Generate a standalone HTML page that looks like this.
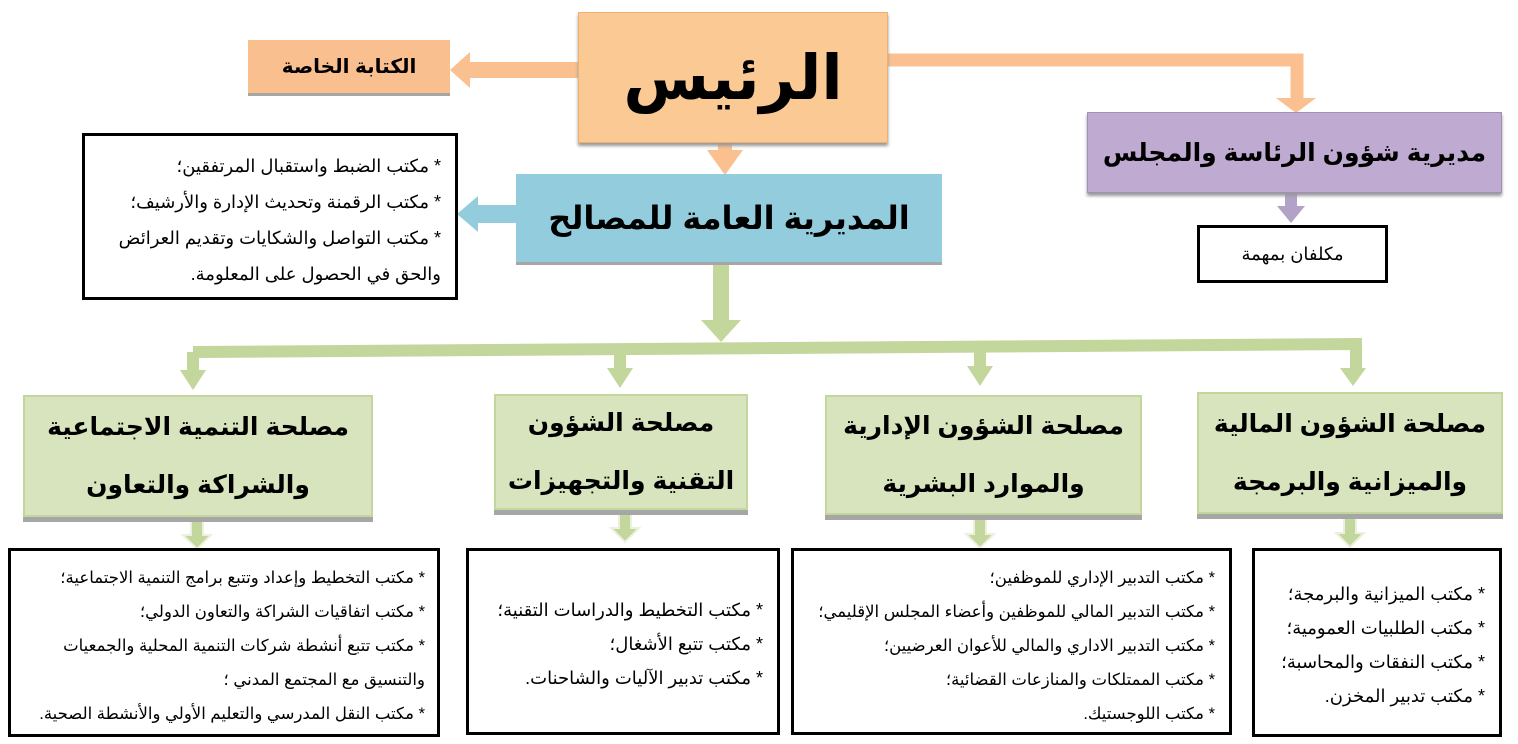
<!DOCTYPE html>
<html><head><meta charset="utf-8"><style>
body{margin:0;width:1518px;height:744px;background:#fff;position:relative;overflow:hidden;font-family:"Liberation Sans","Noto Sans CJK SC","DejaVu Sans",sans-serif;}
.b{position:absolute;box-sizing:border-box;direction:rtl;display:flex;align-items:center;justify-content:center;text-align:center;font-weight:bold;color:#000;}
.l{position:absolute;box-sizing:border-box;border:3px solid #000;background:#fff;direction:rtl;text-align:right;font-size:18px;line-height:34px;padding:0 14px;white-space:nowrap;overflow:hidden;}
.g{background:#d7e4bd;border:2px solid #c3d69b;box-shadow:0 5px 0 #a6a6a6;font-size:25px;line-height:58px;}
svg{position:absolute;left:0;top:0}
</style></head><body>
<svg width="1518" height="744">
<rect x="470" y="62" width="110" height="16" fill="#fac090"/>
<polygon points="450,70 470,52 470,88" fill="#fac090"/>
<path d="M888 60 H1297 V100" fill="none" stroke="#fac090" stroke-width="13"/>
<polygon points="1276,98 1316,98 1296,113" fill="#fac090"/>
<rect x="718" y="143" width="14" height="20" fill="#fac090"/>
<polygon points="707,150 743,150 725,175" fill="#fac090"/>
<rect x="1285" y="193" width="12" height="15" fill="#b3a2c7"/>
<polygon points="1277,206 1305,206 1291,223" fill="#b3a2c7"/>
<rect x="478" y="205" width="40" height="18" fill="#93cddd"/>
<polygon points="457,214 478,196 478,232" fill="#93cddd"/>
<rect x="713" y="263" width="16" height="60" fill="#c3d69b"/>
<polygon points="701,320 741,320 721,342" fill="#c3d69b"/>
<path d="M193 352 L1356 344 V370" fill="none" stroke="#c3d69b" stroke-width="12"/>
<rect x="187" y="352" width="12" height="20" fill="#c3d69b"/><polygon points="180,370 206,370 193,390" fill="#c3d69b"/>
<rect x="614" y="350" width="12" height="20" fill="#c3d69b"/><polygon points="607,368 633,368 620,388" fill="#c3d69b"/>
<rect x="974" y="348" width="12" height="20" fill="#c3d69b"/><polygon points="967,366 993,366 980,386" fill="#c3d69b"/>
<polygon points="1340,368 1366,368 1353,386" fill="#c3d69b"/>
<g fill="#c3d69b" stroke="#ebf1de" stroke-width="2">
<path d="M191 517 h12 v18 h8 l-14 14 l-14 -14 h8z"/>
<path d="M619 510 h12 v18 h8 l-14 14 l-14 -14 h8z"/>
<path d="M974 516 h12 v18 h8 l-14 14 l-14 -14 h8z"/>
<path d="M1344 515 h12 v18 h8 l-14 14 l-14 -14 h8z"/>
</g>
</svg>
<div class="b" style="left:578px;top:12px;width:310px;height:131px;background:#fbc994;border:1px solid #f0b070;box-shadow:0 3px 3px #999;font-size:62px;font-family:'DejaVu Sans',sans-serif">الرئيس</div>
<div class="b" style="left:248px;top:40px;width:202px;height:53px;background:#f9bf8f;box-shadow:0 3px 0 #a6a6a6;font-size:20px">الكتابة الخاصة</div>
<div class="b" style="left:1087px;top:112px;width:415px;height:81px;background:#bfaad2;border:1px solid #a090b8;box-shadow:0 3px 3px #999;font-size:25px">مديرية شؤون الرئاسة والمجلس</div>
<div class="l" style="left:1197px;top:225px;width:191px;height:58px;text-align:center;line-height:52px;font-size:18px">مكلفان بمهمة</div>
<div class="b" style="left:516px;top:174px;width:426px;height:88px;background:#93cddd;box-shadow:0 3px 0 #a6a6a6;font-size:32px">المديرية العامة للمصالح</div>
<div class="l" style="left:82px;top:133px;width:376px;height:167px;padding-top:12px;line-height:36px;font-size:18px">* مكتب الضبط واستقبال المرتفقين؛<br>* مكتب الرقمنة وتحديث الإدارة والأرشيف؛<br>* مكتب التواصل والشكايات وتقديم العرائض<br>والحق في الحصول على المعلومة.</div>
<div class="b g" style="left:23px;top:395px;width:350px;height:122px">مصلحة التنمية الاجتماعية<br>والشراكة والتعاون</div>
<div class="b g" style="left:494px;top:394px;width:254px;height:116px">مصلحة الشؤون<br>التقنية والتجهيزات</div>
<div class="b g" style="left:825px;top:395px;width:317px;height:120px">مصلحة الشؤون الإدارية<br>والموارد البشرية</div>
<div class="b g" style="left:1197px;top:392px;width:306px;height:122px">مصلحة الشؤون المالية<br>والميزانية والبرمجة</div>
<div class="l" style="left:8px;top:548px;width:432px;height:189px;padding-top:10px;padding-right:12px;font-size:16.5px">* مكتب التخطيط وإعداد وتتبع برامج التنمية الاجتماعية؛<br>* مكتب اتفاقيات الشراكة والتعاون الدولي؛<br>* مكتب تتبع أنشطة شركات التنمية المحلية والجمعيات<br>والتنسيق مع المجتمع المدني ؛<br>* مكتب النقل المدرسي والتعليم الأولي والأنشطة الصحية.</div>
<div class="l" style="left:466px;top:548px;width:314px;height:187px;padding-top:42px">* مكتب التخطيط والدراسات التقنية؛<br>* مكتب تتبع الأشغال؛<br>* مكتب تدبير الآليات والشاحنات.</div>
<div class="l" style="left:791px;top:548px;width:441px;height:187px;padding-top:10px;font-size:16.5px">* مكتب التدبير الإداري للموظفين؛<br>* مكتب التدبير المالي للموظفين وأعضاء المجلس الإقليمي؛<br>* مكتب التدبير الاداري والمالي للأعوان العرضيين؛<br>* مكتب الممتلكات والمنازعات القضائية؛<br>* مكتب اللوجستيك.</div>
<div class="l" style="left:1252px;top:548px;width:250px;height:189px;padding-top:26px">* مكتب الميزانية والبرمجة؛<br>* مكتب الطلبيات العمومية؛<br>* مكتب النفقات والمحاسبة؛<br>* مكتب تدبير المخزن.</div>
</body></html>
